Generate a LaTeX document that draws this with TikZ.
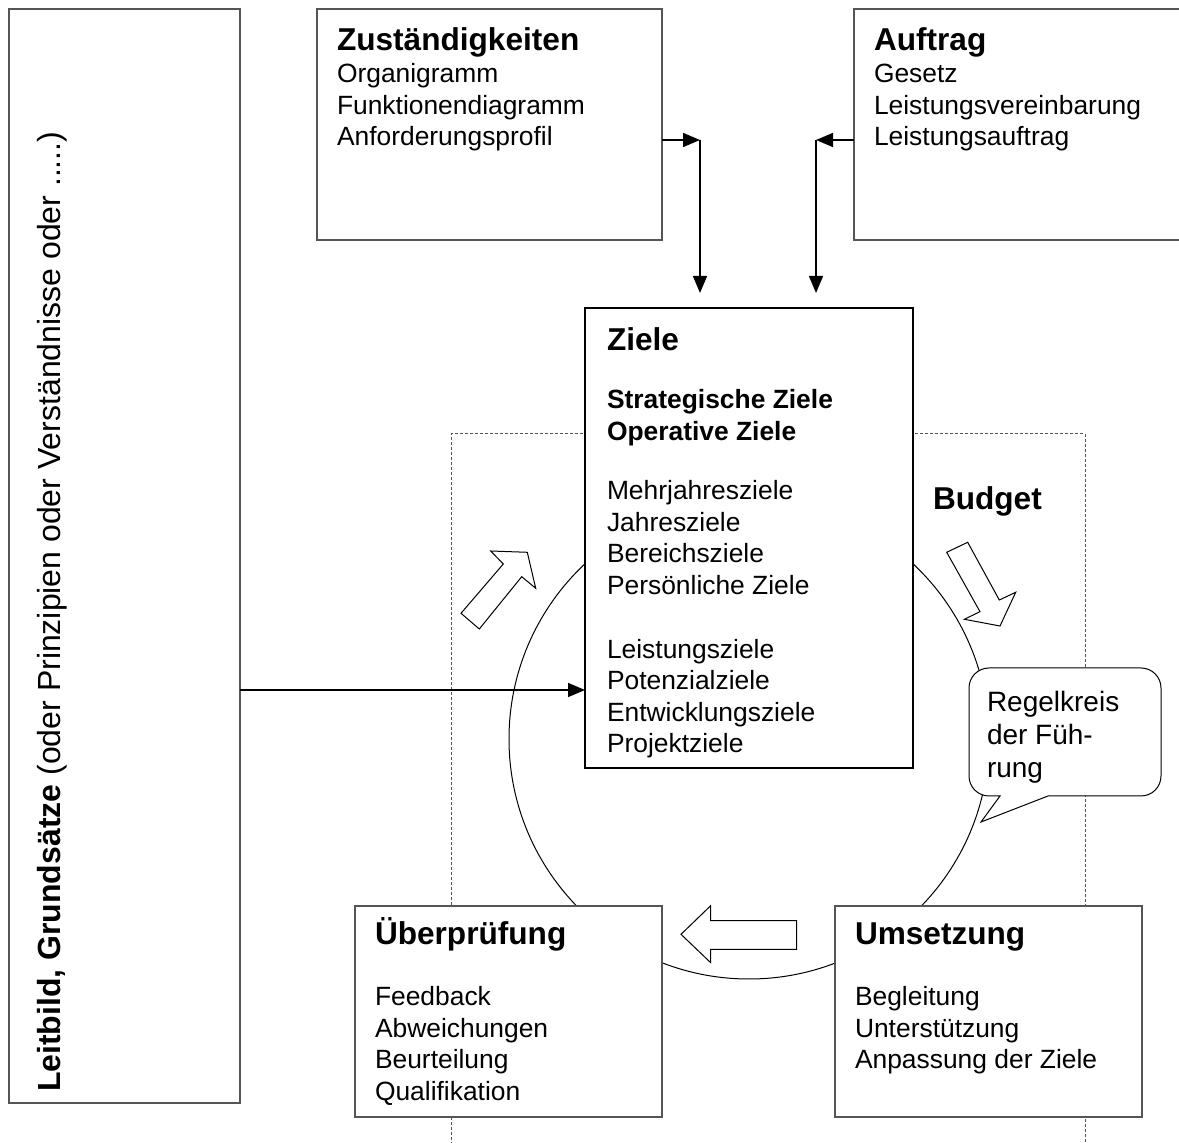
\documentclass[tikz,border=0pt]{standalone}
\usepackage{fontspec}
\setmainfont{Liberation Sans}
\usetikzlibrary{arrows.meta}
\definecolor{framegray}{RGB}{85,85,85}
\newcommand\ttlfont{\fontsize{15.8}{15.8}\selectfont\bfseries}
\newcommand\bodyfont{\fontsize{13.2}{15.8}\selectfont}
\newcommand\blk[1]{\parbox[t]{220pt}{\raggedright\bodyfont #1}}
\begin{document}
\begin{tikzpicture}[x=0.5pt,y=-0.5pt,
  boxframe/.style={draw=framegray, line width=0.75pt, fill=white, anchor=north west, inner sep=0pt, outer sep=0pt},
  conn/.style={draw=black, line width=0.75pt, -{Triangle[length=8.5pt,width=7pt]}},
  txt/.style={anchor=base west, inner sep=0pt, outer sep=0pt},
  hollow/.style={draw=black, line width=0.5pt, fill=white, line join=miter},
  dotbox/.style={draw=framegray, line width=0.5pt, dash pattern=on 1.5pt off 1pt},
  ring/.style={draw=black, line width=0.5pt},
  callout/.style={draw=black, line width=0.5pt, fill=white}]
\clip (0,0) rectangle (1179,1143);
% dotted frame and control loop circle
\draw[dotbox] (451,1160) -- (451,434) -- (1085,434) -- (1085,1160);
\draw[ring] (749,739) circle[radius=120pt];
% boxes
\node[boxframe, minimum width=115.5pt, minimum height=547pt] (leit) at (9,9) {};
\node[boxframe, minimum width=172.5pt, minimum height=115.5pt] (zust) at (317,9) {};
\node[boxframe, minimum width=173pt, minimum height=115.5pt] (auft) at (854,9) {};
\node[boxframe, draw=black, line width=1.25pt, minimum width=164pt, minimum height=230pt] (ziele) at (585,308) {};
\node[boxframe, minimum width=153.5pt, minimum height=105.5pt] (ueber) at (355,906) {};
\node[boxframe, minimum width=153.5pt, minimum height=105.5pt] (umset) at (835,906) {};
% texts
\node[txt, rotate=90] (leittext) at (60.5,1092) {\fontsize{16}{16}\selectfont\textbf{Leitbild, Grundsätze} (oder Prinzipien oder Verständnisse oder .....)};
\node[txt] (zusttext) at (337,51) {\blk{{\ttlfont Zuständigkeiten}\\Organigramm\\Funktionendiagramm\\Anforderungsprofil}};
\node[txt] (aufttext) at (874,51) {\blk{{\ttlfont Auftrag}\\Gesetz\\Leistungsvereinbarung\\Leistungsauftrag}};
\node[txt] (zieletext) at (607,351) {\blk{{\ttlfont Ziele}\\[12.95pt]\textbf{Strategische Ziele}\\\textbf{Operative Ziele}\\[14pt]Mehrjahresziele\\Jahresziele\\Bereichsziele\\Persönliche Ziele\\[16pt]Leistungsziele\\Potenzialziele\\Entwicklungsziele\\Projektziele}};
\node[txt] (uebertext) at (375,945) {\blk{{\ttlfont Überprüfung}\\[14.5pt]Feedback\\Abweichungen\\Beurteilung\\Qualifikation}};
\node[txt] (umsettext) at (855,945) {\blk{{\ttlfont Umsetzung}\\[14.5pt]Begleitung\\Unterstützung\\Anpassung der Ziele}};
\node[txt] (budget) at (933,510) {\ttlfont Budget};
% hollow block arrows
\draw[hollow] (490.7,551) -- (527.3,552.3) -- (535.7,588.3) -- (521.7,576.7) -- (479.3,629) -- (461,613.3) -- (503.3,564) -- cycle;
\draw[hollow] (946.7,552.3) -- (967.7,542.3) -- (999.3,600) -- (1015.7,592.3) -- (1000,626) -- (964.3,619.3) -- (980,611.7) -- cycle;
\draw[hollow] (681,934.3) -- (710.7,905.7) -- (710.7,920.7) -- (796.7,920.7) -- (796.7,949.3) -- (710.7,949.3) -- (710.7,962.7) -- cycle;
% callout
\draw[callout] (1000,796) -- (981,822) -- (1048,796) -- (1141,796) arc[start angle=-90, end angle=0, radius=10pt] -- (1161,688) arc[start angle=0, end angle=90, radius=10pt] -- (989,668) arc[start angle=90, end angle=180, radius=10pt] -- (969,776) arc[start angle=180, end angle=270, radius=10pt] -- cycle;
\node[txt] (regel) at (987,712) {\parbox[t]{100pt}{\raggedright\fontsize{14}{16.5}\selectfont Regelkreis\\der Füh-\\rung}};
% connectors
\coordinate (zc) at (700,140);
\coordinate (ac) at (816,140);
\coordinate (lc) at (400,690);
\draw[conn] (zust.east |- zc) -- (zc);
\draw[conn, shorten >=7.5pt] (zc) -- (zc |- ziele.north);
\draw[conn] (auft.west |- ac) -- (ac);
\draw[conn, shorten >=7.5pt] (ac) -- (ac |- ziele.north);
\draw[conn] (leit.east |- lc) -- (ziele.west |- lc);
\end{tikzpicture}
\end{document}
